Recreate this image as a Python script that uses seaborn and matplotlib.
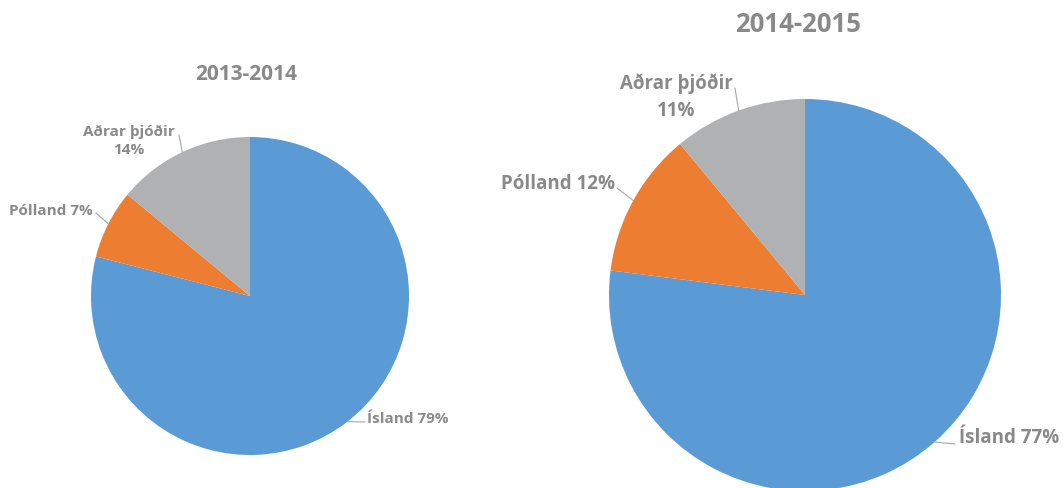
import matplotlib
matplotlib.use('Agg')
import matplotlib.pyplot as plt
import numpy as np
import seaborn as sns

# Gögn: hlutfall eftir þjóðerni
years = ['2013-2014', '2014-2015']
countries = ['Ísland', 'Pólland', 'Aðrar þjóðir']
share_2013 = [79, 7, 14]
share_2014 = [77, 12, 11]

colors = ['#5B9BD5', '#ED7D31', '#B0B1B3']
text_color = '#898989'

sns.set_theme(style='white')
plt.rcParams['font.family'] = ['Open Sans', 'DejaVu Sans']

W, H = 1063, 488
fig = plt.figure(figsize=(W / 100, H / 100), dpi=100)

# uppsetning (pixlar): miðja, radíus, titill, stafastærðir,
# staðsetning merkja og upphaf leiðarlínu
layouts = [
    dict(center=(250, 296), r=159, title_xy=(246, 75), title_size=15, label_size=11,
         label_xy=[(408, 419), (51, 211), (129, 141)],
         line_start=[(365, 422), (96, 213), (179, 135)],
         multiline=[False, False, True]),
    dict(center=(805, 295), r=196, title_xy=(798, 24), title_size=18.5, label_size=13.5,
         label_xy=[(1009, 438), (558, 184), (676, 97)],
         line_start=[(955, 444), (617, 188), (735, 88)],
         multiline=[False, False, True]),
]

for year, shares, lay in zip(years, [share_2013, share_2014], layouts):
    cx, cy = lay['center']
    r = lay['r']
    ax = fig.add_axes([(cx - r) / W, (H - cy - r) / H, 2 * r / W, 2 * r / H])
    wedges, _ = ax.pie(shares, colors=colors, startangle=90, counterclock=False,
                       wedgeprops=dict(linewidth=0))
    ax.set_xlim(-1, 1)
    ax.set_ylim(-1, 1)
    ax.set_aspect('equal')
    ax.axis('off')

    fig.text(lay['title_xy'][0] / W, 1 - lay['title_xy'][1] / H, year,
             ha='center', va='center', fontsize=lay['title_size'],
             fontweight='bold', color=text_color)

    for i, (w, name, val) in enumerate(zip(wedges, countries, shares)):
        mid = np.deg2rad((w.theta1 + w.theta2) / 2)
        edge = (np.cos(mid), np.sin(mid))
        sep = '\n' if lay['multiline'][i] else ' '
        tx, ty = lay['label_xy'][i]
        fig.text(tx / W, 1 - ty / H, f'{name}{sep}{val}%', ha='center', va='center',
                 fontsize=lay['label_size'], fontweight='bold', color=text_color,
                 linespacing=1.45)
        sx, sy = lay['line_start'][i]
        ax.annotate('', xy=edge, xycoords='data', xytext=(sx, H - sy),
                    textcoords='figure pixels',
                    arrowprops=dict(arrowstyle='-', color='#A6A6A6', lw=0.8,
                                    shrinkA=0, shrinkB=0))

fig.savefig('out.png', dpi=100)
